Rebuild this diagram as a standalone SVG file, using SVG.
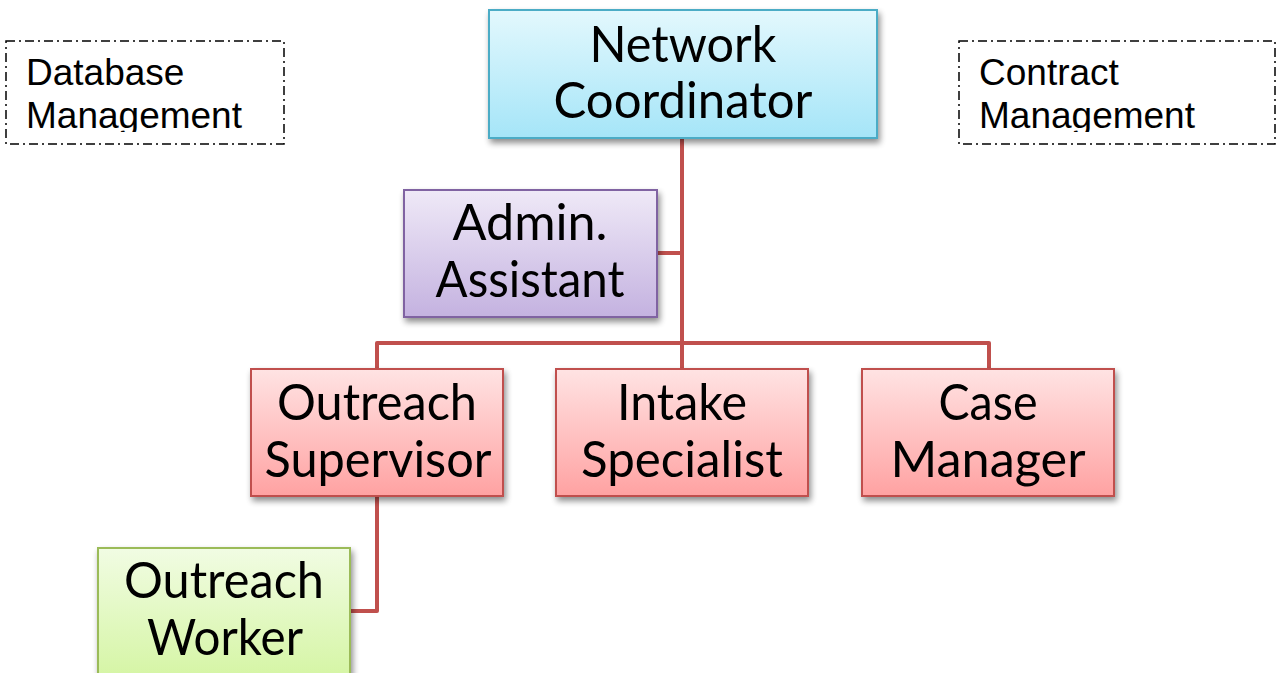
<svg xmlns="http://www.w3.org/2000/svg" width="1278" height="673" viewBox="0 0 1278 673">
  <style>
    .box { stroke-width: 2; filter: url(#shadow); }
    .lbl { font-family: Lato, "Open Sans", "DejaVu Sans", sans-serif; font-size: 50px; fill: #000; text-anchor: middle; }
    .note { font-family: "Liberation Sans", Arial, sans-serif; font-size: 37px; fill: #000; }
    .dash { fill: #fff; stroke: #000; stroke-width: 1.5; stroke-dasharray: 9 4 2 4; }
    .wire { fill: none; stroke: #c0504d; stroke-width: 4; stroke-linejoin: round; }
  </style>
  <defs>
    <filter id="shadow" x="-10%" y="-10%" width="125%" height="130%">
      <feGaussianBlur in="SourceAlpha" stdDeviation="3"/>
      <feOffset dx="2" dy="4" result="b"/>
      <feComponentTransfer><feFuncA type="linear" slope="0.45"/></feComponentTransfer>
      <feMerge><feMergeNode/><feMergeNode in="SourceGraphic"/></feMerge>
    </filter>
    <linearGradient id="gBlue" x1="0" y1="0" x2="0" y2="1">
      <stop offset="0" stop-color="#e3f8fd"/>
      <stop offset="1" stop-color="#a5e5f8"/>
    </linearGradient>
    <linearGradient id="gPurple" x1="0" y1="0" x2="0" y2="1">
      <stop offset="0" stop-color="#efe9f7"/>
      <stop offset="1" stop-color="#c4b2e0"/>
    </linearGradient>
    <linearGradient id="gRed" x1="0" y1="0" x2="0" y2="1">
      <stop offset="0" stop-color="#ffe3e3"/>
      <stop offset="1" stop-color="#ffa2a2"/>
    </linearGradient>
    <linearGradient id="gGreen" x1="0" y1="0" x2="0" y2="1">
      <stop offset="0" stop-color="#f1fce3"/>
      <stop offset="1" stop-color="#d4f5a2"/>
    </linearGradient>
    <clipPath id="clipDb"><rect x="6" y="41" width="278" height="91"/></clipPath>
    <clipPath id="clipCt"><rect x="959" y="41" width="316" height="91"/></clipPath>
  </defs>

  <rect width="1278" height="673" fill="#fff"/>

  <!-- reporting lines -->
  <g id="connectors">
    <path class="wire" d="M682 138 V369"/>
    <path class="wire" d="M657 253 H682"/>
    <path class="wire" d="M377 369 V343 H989 V369"/>
    <path class="wire" d="M377 496 V611 H350"/>
  </g>

  <g id="database-management">
    <rect class="dash" x="6" y="41" width="278" height="103"/>
    <g clip-path="url(#clipDb)">
      <text class="note" x="26" y="85">Database</text>
      <text class="note" x="26" y="128">Management</text>
    </g>
  </g>

  <g id="contract-management">
    <rect class="dash" x="959" y="41" width="316" height="103"/>
    <g clip-path="url(#clipCt)">
      <text class="note" x="979" y="85">Contract</text>
      <text class="note" x="979" y="128">Management</text>
    </g>
  </g>

  <g id="network-coordinator">
    <rect class="box" x="489" y="10" width="388" height="128" fill="url(#gBlue)" stroke="#4bacc6"/>
    <text class="lbl" x="683" y="62" textLength="187" lengthAdjust="spacingAndGlyphs">Network</text>
    <text class="lbl" x="683" y="118" textLength="259" lengthAdjust="spacingAndGlyphs">Coordinator</text>
  </g>

  <g id="admin-assistant">
    <rect class="box" x="404" y="190" width="253" height="127" fill="url(#gPurple)" stroke="#8064a2"/>
    <text class="lbl" x="530" y="240" textLength="155" lengthAdjust="spacingAndGlyphs">Admin.</text>
    <text class="lbl" x="530" y="297" textLength="189" lengthAdjust="spacingAndGlyphs">Assistant</text>
  </g>

  <g id="outreach-supervisor">
    <rect class="box" x="251" y="369" width="252" height="127" fill="url(#gRed)" stroke="#c0504d"/>
    <text class="lbl" x="377" y="420" textLength="200" lengthAdjust="spacingAndGlyphs">Outreach</text>
    <text class="lbl" x="378" y="477" textLength="227" lengthAdjust="spacingAndGlyphs">Supervisor</text>
  </g>

  <g id="intake-specialist">
    <rect class="box" x="556" y="369" width="252" height="127" fill="url(#gRed)" stroke="#c0504d"/>
    <text class="lbl" x="682" y="420" textLength="130" lengthAdjust="spacingAndGlyphs">Intake</text>
    <text class="lbl" x="682" y="477" textLength="202" lengthAdjust="spacingAndGlyphs">Specialist</text>
  </g>

  <g id="case-manager">
    <rect class="box" x="862" y="369" width="252" height="127" fill="url(#gRed)" stroke="#c0504d"/>
    <text class="lbl" x="988" y="420" textLength="99" lengthAdjust="spacingAndGlyphs">Case</text>
    <text class="lbl" x="988" y="477" textLength="195" lengthAdjust="spacingAndGlyphs">Manager</text>
  </g>

  <g id="outreach-worker">
    <rect class="box" x="98" y="548" width="252" height="135" fill="url(#gGreen)" stroke="#9bbb59"/>
    <text class="lbl" x="224" y="598" textLength="200" lengthAdjust="spacingAndGlyphs">Outreach</text>
    <text class="lbl" x="225" y="655" textLength="156" lengthAdjust="spacingAndGlyphs">Worker</text>
  </g>
</svg>
